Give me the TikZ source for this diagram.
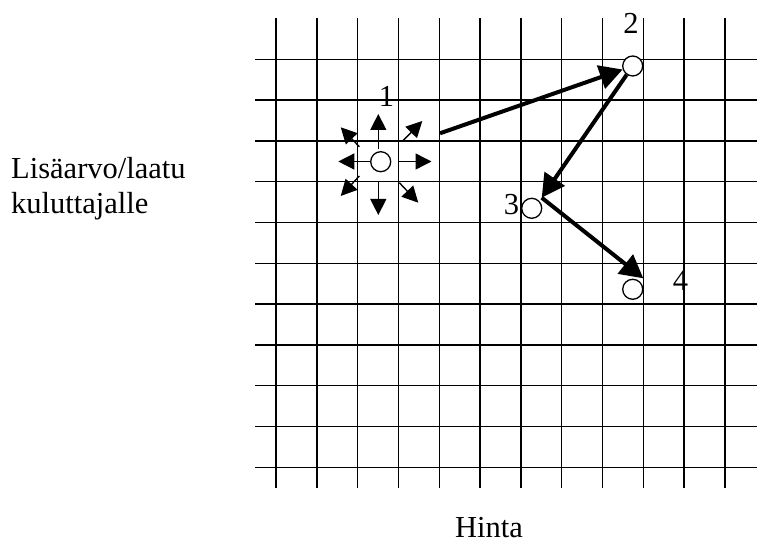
\documentclass[tikz,border=0pt]{standalone}
\usepackage{fontspec}
\setmainfont{Liberation Serif}
\usetikzlibrary{arrows.meta}
\begin{document}
\begin{tikzpicture}[x=1pt,y=-1pt,
  gridline/.style={line width=1.4pt,black},
  pt/.style={circle,draw,fill=white,line width=1.3pt,minimum size=20pt,inner sep=0pt},
  lbl/.style={font=\fontsize{30.5}{35}\selectfont,inner sep=0pt},
  small/.style={line width=1.4pt,-{Triangle[length=16pt,width=16pt]}},
  big/.style={line width=4pt,-{Triangle[length=23pt,width=24pt]}}]
\useasboundingbox (0,0) rectangle (757,545);
% grid
\foreach \i in {0,...,11}
  \draw[gridline] ({276+40.8*\i},18) -- ({276+40.8*\i},488);
\foreach \j in {0,...,10}
  \draw[gridline] (255,{59.3+40.8*\j}) -- (757,{59.3+40.8*\j});
% points
\node[pt] (c1) at (380.7,161.7) {};
\node[pt] (c2) at (632.7,66) {};
\node[pt] (c3) at (531.7,208.3) {};
\node[pt] (c4) at (632.7,289.3) {};
% labels
\node[lbl,anchor=base] (l1) at (386.5,106.7) {1};
\node[lbl,anchor=base] (l2) at (631,33.3) {2};
\node[lbl,anchor=base] (l3) at (511.5,215) {3};
\node[lbl,anchor=base] (l4) at (680.5,290) {4};
\node[lbl,anchor=base west] (ya1) at (11,178.3) {Lisäarvo/laatu};
\node[lbl,anchor=base west] (ya2) at (11,213.3) {kuluttajalle};
\node[lbl,anchor=base west] (xa) at (455,537) {Hinta};
% small arrows around point 1
\coordinate (uS) at (378.3,149.3); \coordinate (uT) at (378.3,114);
\coordinate (dS) at (378.3,181.7); \coordinate (dT) at (378.3,215);
\coordinate (lS) at (370,161.5);   \coordinate (lT) at (338.3,161.5);
\coordinate (rS) at (399,161.5);   \coordinate (rT) at (431.5,161.5);
\coordinate (neS) at (402.7,141);  \coordinate (neT) at (422.3,121);
\coordinate (nwS) at (359.3,146.7);\coordinate (nwT) at (340.7,127.3);
\coordinate (swS) at (359.3,176);  \coordinate (swT) at (340.7,196);
\coordinate (seS) at (399.3,182.7);\coordinate (seT) at (418.3,202.7);
\draw[small] (uS) -- (uT);
\draw[small] (dS) -- (dT);
\draw[small] (lS) -- (lT);
\draw[small] (rS) -- (rT);
\draw[small] (neS) -- (neT);
\draw[small] (nwS) -- (nwT);
\draw[small] (swS) -- (swT);
\draw[small] (seS) -- (seT);
% thick path
\coordinate (s12) at (440,133.3);
\coordinate (p3) at (541.7,197.7);
\coordinate (p4) at (643.3,278.3);
\draw[big] (s12) -- (c2);
\draw[big] (c2) -- (p3);
\draw[big] (p3) -- (p4);
\end{tikzpicture}
\end{document}
